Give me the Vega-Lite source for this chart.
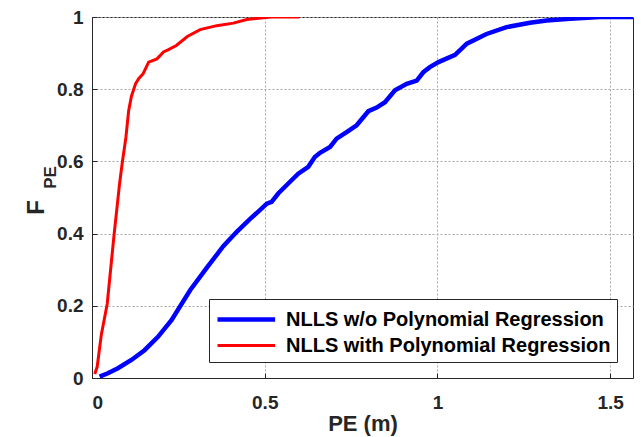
{
  "$schema": "https://vega.github.io/schema/vega-lite/v6.json",
  "width": 541,
  "height": 361,
  "autosize": {"type": "none"},
  "padding": {"left": 92, "top": 17, "right": 8, "bottom": 59},
  "background": "white",
  "config": {
    "view": {"stroke": "#262626", "strokeWidth": 1},
    "font": "Liberation Sans",
    "axis": {
      "labelFont": "Liberation Sans",
      "labelFontWeight": "bold",
      "labelFontSize": 19,
      "labelColor": "#262626",
      "titleFont": "Liberation Sans",
      "titleFontWeight": "bold",
      "titleColor": "#262626",
      "domainColor": "#262626",
      "tickColor": "#262626",
      "gridColor": "#a8a8a8",
      "gridDash": [2, 2],
      "gridWidth": 1,
      "gridOpacity": 1
    },
    "legend": {
      "labelFont": "Liberation Sans",
      "labelFontWeight": "bold",
      "labelFontSize": 20,
      "labelColor": "#000000",
      "labelLimit": 0
    }
  },
  "data": {"values": [
    {"s": "NLLS w/o Polynomial Regression", "x": 0.022, "y": 0.004},
    {"s": "NLLS w/o Polynomial Regression", "x": 0.046, "y": 0.013},
    {"s": "NLLS w/o Polynomial Regression", "x": 0.075, "y": 0.027},
    {"s": "NLLS w/o Polynomial Regression", "x": 0.114, "y": 0.050},
    {"s": "NLLS w/o Polynomial Regression", "x": 0.152, "y": 0.077},
    {"s": "NLLS w/o Polynomial Regression", "x": 0.191, "y": 0.114},
    {"s": "NLLS w/o Polynomial Regression", "x": 0.230, "y": 0.160},
    {"s": "NLLS w/o Polynomial Regression", "x": 0.284, "y": 0.243},
    {"s": "NLLS w/o Polynomial Regression", "x": 0.332, "y": 0.305},
    {"s": "NLLS w/o Polynomial Regression", "x": 0.380, "y": 0.365},
    {"s": "NLLS w/o Polynomial Regression", "x": 0.419, "y": 0.405},
    {"s": "NLLS w/o Polynomial Regression", "x": 0.457, "y": 0.440},
    {"s": "NLLS w/o Polynomial Regression", "x": 0.486, "y": 0.465},
    {"s": "NLLS w/o Polynomial Regression", "x": 0.506, "y": 0.483},
    {"s": "NLLS w/o Polynomial Regression", "x": 0.520, "y": 0.488},
    {"s": "NLLS w/o Polynomial Regression", "x": 0.539, "y": 0.511},
    {"s": "NLLS w/o Polynomial Regression", "x": 0.563, "y": 0.534},
    {"s": "NLLS w/o Polynomial Regression", "x": 0.597, "y": 0.566},
    {"s": "NLLS w/o Polynomial Regression", "x": 0.626, "y": 0.585},
    {"s": "NLLS w/o Polynomial Regression", "x": 0.645, "y": 0.612},
    {"s": "NLLS w/o Polynomial Regression", "x": 0.660, "y": 0.624},
    {"s": "NLLS w/o Polynomial Regression", "x": 0.689, "y": 0.640},
    {"s": "NLLS w/o Polynomial Regression", "x": 0.708, "y": 0.663},
    {"s": "NLLS w/o Polynomial Regression", "x": 0.737, "y": 0.681},
    {"s": "NLLS w/o Polynomial Regression", "x": 0.766, "y": 0.700},
    {"s": "NLLS w/o Polynomial Regression", "x": 0.800, "y": 0.739},
    {"s": "NLLS w/o Polynomial Regression", "x": 0.824, "y": 0.749},
    {"s": "NLLS w/o Polynomial Regression", "x": 0.848, "y": 0.764},
    {"s": "NLLS w/o Polynomial Regression", "x": 0.877, "y": 0.797},
    {"s": "NLLS w/o Polynomial Regression", "x": 0.911, "y": 0.815},
    {"s": "NLLS w/o Polynomial Regression", "x": 0.940, "y": 0.824},
    {"s": "NLLS w/o Polynomial Regression", "x": 0.959, "y": 0.847},
    {"s": "NLLS w/o Polynomial Regression", "x": 0.978, "y": 0.861},
    {"s": "NLLS w/o Polynomial Regression", "x": 1.003, "y": 0.875},
    {"s": "NLLS w/o Polynomial Regression", "x": 1.051, "y": 0.895},
    {"s": "NLLS w/o Polynomial Regression", "x": 1.085, "y": 0.926},
    {"s": "NLLS w/o Polynomial Regression", "x": 1.142, "y": 0.953},
    {"s": "NLLS w/o Polynomial Regression", "x": 1.200, "y": 0.972},
    {"s": "NLLS w/o Polynomial Regression", "x": 1.268, "y": 0.984},
    {"s": "NLLS w/o Polynomial Regression", "x": 1.316, "y": 0.990},
    {"s": "NLLS w/o Polynomial Regression", "x": 1.384, "y": 0.995},
    {"s": "NLLS w/o Polynomial Regression", "x": 1.470, "y": 1.0},
    {"s": "NLLS w/o Polynomial Regression", "x": 1.566, "y": 1.0},
    {"s": "NLLS with Polynomial Regression", "x": 0.008, "y": 0.011},
    {"s": "NLLS with Polynomial Regression", "x": 0.015, "y": 0.031},
    {"s": "NLLS with Polynomial Regression", "x": 0.027, "y": 0.120},
    {"s": "NLLS with Polynomial Regression", "x": 0.044, "y": 0.205},
    {"s": "NLLS with Polynomial Regression", "x": 0.064, "y": 0.398},
    {"s": "NLLS with Polynomial Regression", "x": 0.080, "y": 0.540},
    {"s": "NLLS with Polynomial Regression", "x": 0.088, "y": 0.599},
    {"s": "NLLS with Polynomial Regression", "x": 0.098, "y": 0.665},
    {"s": "NLLS with Polynomial Regression", "x": 0.106, "y": 0.740},
    {"s": "NLLS with Polynomial Regression", "x": 0.114, "y": 0.780},
    {"s": "NLLS with Polynomial Regression", "x": 0.126, "y": 0.815},
    {"s": "NLLS with Polynomial Regression", "x": 0.135, "y": 0.829},
    {"s": "NLLS with Polynomial Regression", "x": 0.148, "y": 0.843},
    {"s": "NLLS with Polynomial Regression", "x": 0.164, "y": 0.875},
    {"s": "NLLS with Polynomial Regression", "x": 0.188, "y": 0.884},
    {"s": "NLLS with Polynomial Regression", "x": 0.207, "y": 0.903},
    {"s": "NLLS with Polynomial Regression", "x": 0.220, "y": 0.909},
    {"s": "NLLS with Polynomial Regression", "x": 0.244, "y": 0.921},
    {"s": "NLLS with Polynomial Regression", "x": 0.276, "y": 0.946},
    {"s": "NLLS with Polynomial Regression", "x": 0.313, "y": 0.965},
    {"s": "NLLS with Polynomial Regression", "x": 0.361, "y": 0.976},
    {"s": "NLLS with Polynomial Regression", "x": 0.409, "y": 0.983},
    {"s": "NLLS with Polynomial Regression", "x": 0.448, "y": 0.993},
    {"s": "NLLS with Polynomial Regression", "x": 0.496, "y": 0.998},
    {"s": "NLLS with Polynomial Regression", "x": 0.520, "y": 1.0},
    {"s": "NLLS with Polynomial Regression", "x": 0.600, "y": 1.0}
  ]},
  "layer": [
    {
      "mark": {"type": "line", "clip": true},
      "transform": [{"filter": "datum.s === 'NLLS w/o Polynomial Regression'"}],
      "encoding": {
        "x": {"field": "x", "type": "quantitative", "scale": {"domain": [0, 1.566], "nice": false},
          "axis": {"values": [0, 0.5, 1, 1.5], "format": "~g", "title": "PE (m)", "titleFontSize": 22, "tickSize": -5, "labelPadding": 20, "titlePadding": 1, "grid": true}},
        "y": {"field": "y", "type": "quantitative", "scale": {"domain": [0, 1], "nice": false},
          "axis": {"values": [0, 0.2, 0.4, 0.6, 0.8, 1], "format": "~g", "title": "F", "titleFontSize": 24, "tickSize": -5, "labelPadding": 14, "grid": true, "titleX": -44, "titleY": 190}},
        "color": {"field": "s", "type": "nominal", "scale": {"domain": ["NLLS w/o Polynomial Regression", "NLLS with Polynomial Regression"], "range": ["#0000ff", "#ff0000"]},
          "legend": {"title": null, "orient": "bottom-right", "offset": 16, "symbolType": "M-1,0H3.8", "symbolSize": 576, "strokeColor": "#262626", "fillColor": "white", "padding": 6, "rowPadding": 2, "labelOffset": 42}},
        "strokeWidth": {"field": "s", "type": "nominal", "scale": {"domain": ["NLLS w/o Polynomial Regression", "NLLS with Polynomial Regression"], "range": [4.5, 3]}, "legend": null}
      }
    },
    {
      "mark": {"type": "line", "clip": true},
      "transform": [{"filter": "datum.s === 'NLLS with Polynomial Regression'"}],
      "encoding": {
        "x": {"field": "x", "type": "quantitative"},
        "y": {"field": "y", "type": "quantitative",
          "axis": {"orient": "left", "title": "PE", "titleFontSize": 17, "labels": false, "ticks": false, "domain": false, "grid": false, "titleX": -33, "titleY": 160}},
        "color": {"field": "s", "type": "nominal"},
        "strokeWidth": {"field": "s", "type": "nominal", "legend": null}
      }
    }
  ],
  "resolve": {"axis": {"y": "independent"}}
}
